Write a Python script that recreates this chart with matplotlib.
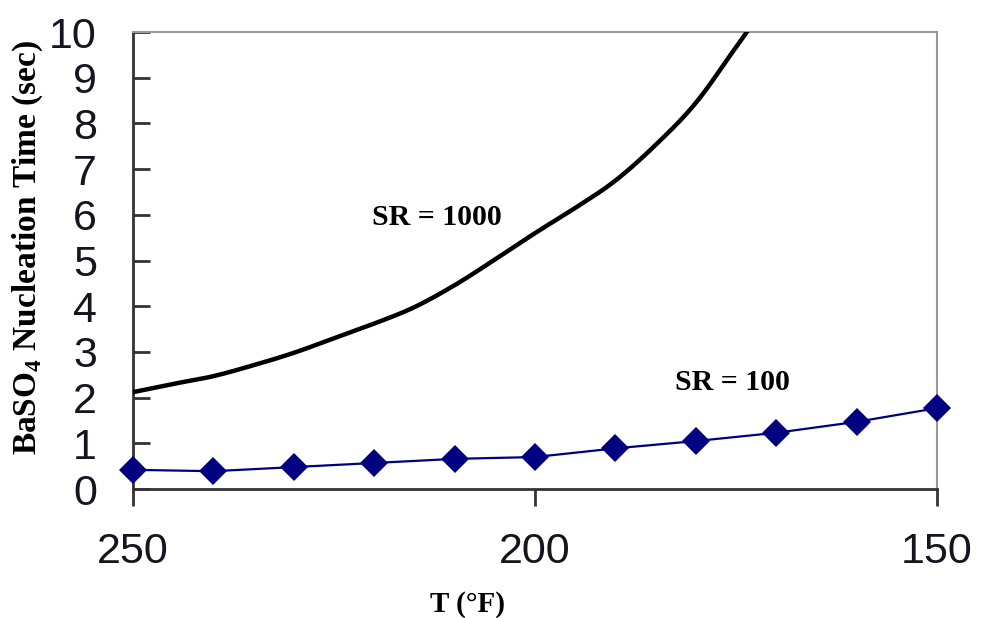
import numpy as np
import matplotlib
matplotlib.use('Agg')
from matplotlib import pyplot as plt

plt.rcParams['mathtext.fontset'] = 'custom'
plt.rcParams['mathtext.bf'] = 'Liberation Serif:bold'
plt.rcParams['mathtext.rm'] = 'Liberation Serif'

# temperature (F) and nucleation time (sec) for the two saturation ratios
t_sr100 = [250, 240, 230, 220, 210, 200, 190, 180, 170, 160, 150]
time_sr100 = [0.42, 0.39, 0.48, 0.57, 0.66, 0.70, 0.89, 1.05, 1.23, 1.47, 1.77]

t_sr1000 = [250, 245, 240, 235, 230, 225, 220, 215, 210, 205, 200,
            195, 190, 185, 180, 175, 170]
time_sr1000 = [2.12, 2.30, 2.47, 2.71, 2.98, 3.30, 3.62, 3.98, 4.46, 5.02, 5.60,
               6.15, 6.75, 7.53, 8.45, 9.67, 10.9]

xticks = [250, 200, 150]
yticks = list(range(0, 11))


def smooth(x, y, n=12):
    # Catmull-Rom pass through the points, like a spreadsheet "smoothed line"
    x = np.asarray(x, float)
    y = np.asarray(y, float)
    px = np.concatenate([[2 * x[0] - x[1]], x, [2 * x[-1] - x[-2]]])
    py = np.concatenate([[2 * y[0] - y[1]], y, [2 * y[-1] - y[-2]]])
    xs, ys = [], []
    s = np.linspace(0, 1, n, endpoint=False)
    for i in range(1, len(px) - 2):
        for p, out in ((px, xs), (py, ys)):
            p0, p1, p2, p3 = p[i - 1], p[i], p[i + 1], p[i + 2]
            out.extend(0.5 * (2 * p1 + (-p0 + p2) * s
                              + (2 * p0 - 5 * p1 + 4 * p2 - p3) * s ** 2
                              + (-p0 + 3 * p1 - 3 * p2 + p3) * s ** 3))
    xs.append(x[-1])
    ys.append(y[-1])
    return np.array(xs), np.array(ys)


fig = plt.figure(figsize=(9.81, 6.18), dpi=100)
ax = fig.add_axes([0.1356, 0.2087, 0.8196, 0.7395])

sx, sy = smooth(t_sr1000, time_sr1000)
ax.plot(sx, sy, color='black', lw=3.2, zorder=3)
ax.plot(t_sr100, time_sr100, color='#000080', lw=1.6, marker='D', ms=14,
        markeredgewidth=0, clip_on=False, zorder=4)

ax.set_xlim(250, 150)
ax.set_ylim(0, 10)
ax.set_xticks(xticks)
ax.set_yticks(yticks)

tickfont = {'family': 'Liberation Sans', 'size': 31}
ax.set_xticklabels([str(v) for v in xticks], fontdict=tickfont, color='#15151f')
ax.set_yticklabels([str(v) for v in yticks], fontdict=tickfont, color='#15151f')
ax.tick_params(axis='y', direction='in', length=12, width=2, color='#333333', pad=26)
ax.tick_params(axis='x', direction='out', length=12, width=2, color='#333333', pad=19)

for s in ['left', 'bottom']:
    ax.spines[s].set_color('#333333')
    ax.spines[s].set_linewidth(2)
for s in ['top', 'right']:
    ax.spines[s].set_color('#999999')
    ax.spines[s].set_linewidth(1.5)

serif = 'Liberation Serif'
ax.text(212.2, 5.95, 'SR = 1000', family=serif, weight='bold', fontsize=21.5,
        ha='center', va='center')
ax.text(175.5, 2.32, 'SR = 100', family=serif, weight='bold', fontsize=21.5,
        ha='center', va='center')

fig.text(0.028, 0.599, r'BaSO$_\mathbf{4}$ Nucleation Time (sec)', family=serif,
         weight='bold', fontsize=24, rotation=90, ha='center', va='center')
fig.text(0.477, 0.022, 'T (°F)', family=serif, weight='bold', fontsize=21,
         ha='center', va='center')

fig.savefig('out.png', dpi=100)
